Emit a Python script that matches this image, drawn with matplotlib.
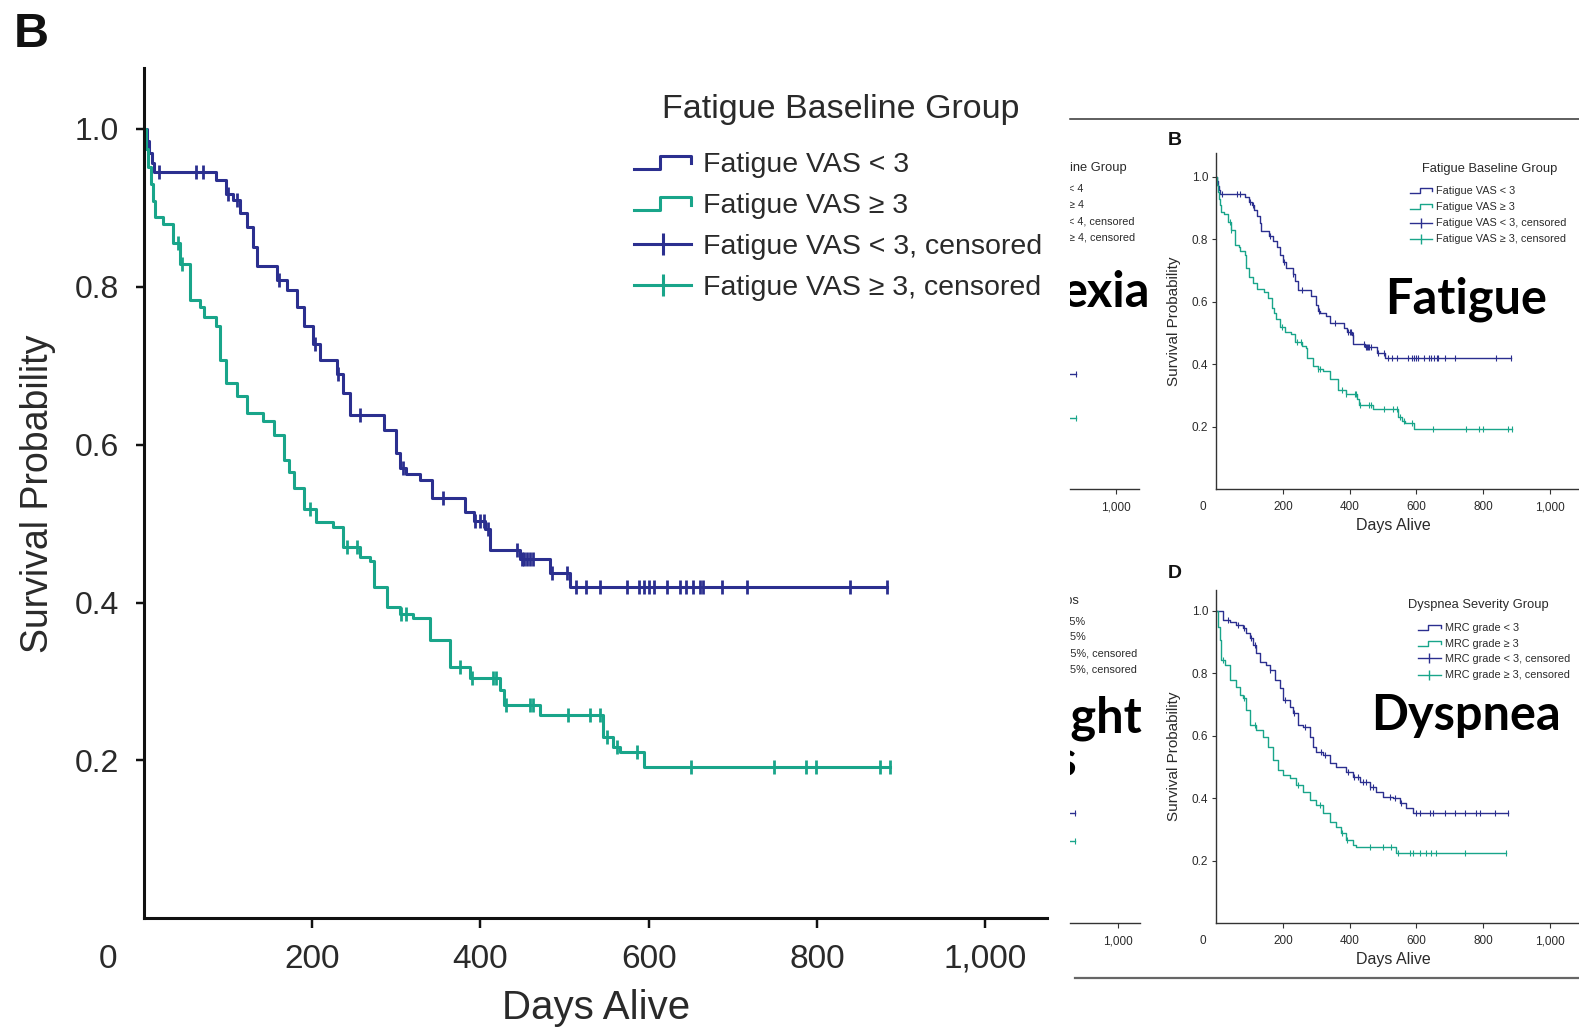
import numpy as np
import matplotlib
matplotlib.use("Agg")
import matplotlib.pyplot as plt
from matplotlib.lines import Line2D

plt.rcParams['font.family'] = ['Liberation Sans', 'DejaVu Sans']

W, H = 1568, 1026          # pixel grid of the reference used for placement
blue = '#2b2f8f'
green = '#19a58a'
ink = '#2a2a2a'

# ---- Fatigue (panel B): step times (days) and survival after each step
fat_lo_t = [0, 3, 6, 9, 12, 86, 98, 106, 114, 122, 130, 134, 158, 170, 182, 190, 201, 209,
            229, 237, 245, 285, 300, 304, 312, 328, 342, 382, 392, 406, 411, 447, 483, 507]
fat_lo_s = [1.0, 0.985, 0.97, 0.957, 0.946, 0.935, 0.918, 0.910, 0.893, 0.876, 0.851, 0.826,
            0.809, 0.796, 0.775, 0.750, 0.728, 0.707, 0.690, 0.665, 0.637, 0.618, 0.589, 0.570,
            0.563, 0.555, 0.533, 0.515, 0.503, 0.493, 0.466, 0.455, 0.437, 0.420]
fat_lo_cens = [18, 62, 70, 100, 110, 160, 203, 231, 257, 308, 356, 394, 400, 404, 409, 443, 449,
               452, 455, 459, 463, 485, 503, 514, 526, 542, 574, 588, 594, 600, 606, 622, 637,
               645, 653, 661, 665, 687, 717, 839, 883]

fat_hi_t = [0, 2, 5, 8, 11, 13, 23, 35, 43, 55, 67, 71, 86, 90, 98, 110, 122, 142, 154, 166,
            172, 178, 190, 205, 225, 237, 257, 269, 273, 289, 304, 320, 340, 364, 388, 423,
            428, 471, 546, 558, 566, 594]
fat_hi_s = [1.0, 0.975, 0.952, 0.930, 0.909, 0.888, 0.880, 0.855, 0.829, 0.783, 0.775, 0.762,
            0.750, 0.707, 0.678, 0.661, 0.640, 0.630, 0.612, 0.580, 0.565, 0.545, 0.519, 0.502,
            0.496, 0.470, 0.458, 0.452, 0.420, 0.394, 0.386, 0.380, 0.352, 0.318, 0.304, 0.289,
            0.270, 0.257, 0.230, 0.217, 0.211, 0.192]
fat_hi_cens = [40, 45, 197, 241, 253, 306, 312, 376, 390, 415, 419, 431, 459, 463, 504, 530,
               542, 550, 562, 586, 650, 749, 787, 799, 875, 887]

# ---- Dyspnea (panel D)
dys_lo_t = [0, 20, 40, 60, 80, 90, 100, 110, 120, 130, 150, 160, 175, 190, 200, 220, 230, 245,
            260, 280, 290, 300, 320, 340, 360, 390, 410, 430, 460, 480, 500, 530, 550, 570, 590]
dys_lo_s = [1.0, 0.970, 0.965, 0.954, 0.943, 0.927, 0.911, 0.890, 0.863, 0.837, 0.826, 0.810,
            0.778, 0.752, 0.714, 0.693, 0.672, 0.634, 0.629, 0.597, 0.565, 0.549, 0.538, 0.512,
            0.501, 0.485, 0.469, 0.453, 0.437, 0.421, 0.405, 0.400, 0.384, 0.368, 0.352]
dys_lo_cens = [35, 65, 82, 105, 115, 162, 205, 232, 265, 315, 325, 395, 412, 425, 440, 450, 462,
               470, 520, 535, 555, 600, 610, 640, 650, 685, 715, 745, 780, 790, 835, 875]

dys_hi_t = [0, 5, 10, 15, 25, 40, 60, 70, 80, 90, 100, 120, 140, 155, 170, 185, 200, 220, 240,
            260, 280, 300, 320, 340, 360, 375, 390, 410, 420, 540]
dys_hi_s = [1.0, 0.949, 0.906, 0.842, 0.826, 0.778, 0.757, 0.730, 0.720, 0.682, 0.634, 0.618,
            0.597, 0.565, 0.522, 0.490, 0.474, 0.464, 0.442, 0.421, 0.394, 0.378, 0.352, 0.325,
            0.309, 0.288, 0.266, 0.250, 0.245, 0.224]
dys_hi_cens = [20, 82, 115, 245, 310, 377, 392, 460, 500, 525, 545, 580, 590, 610, 630, 645,
               660, 745, 870]

# ---- cropped neighbour panels (only the tails are visible)
ano_lo_s, ano_hi_s, ano_cens = [0.370], [0.229], [882]
wt_lo_s, wt_hi_s, wt_cens = [0.354], [0.264], [873]

xticks = [200, 400, 600, 800, 1000]
xticklabels = ['200', '400', '600', '800', '1,000']
yticks = [0.2, 0.4, 0.6, 0.8, 1.0]

fat_title = 'Fatigue Baseline Group'
fat_labels = ['Fatigue VAS < 3', 'Fatigue VAS \u2265 3',
              'Fatigue VAS < 3, censored', 'Fatigue VAS \u2265 3, censored']
dys_title = 'Dyspnea Severity Group'
dys_labels = ['MRC grade < 3', 'MRC grade \u2265 3',
              'MRC grade < 3, censored', 'MRC grade \u2265 3, censored']


def fx(px):
    return px / W


def fy(py):
    return 1 - py / H


def box(l, t, r, b):
    return [fx(l), fy(b), fx(r) - fx(l), fy(t) - fy(b)]


def surv_at(times, surv, t):
    i = np.searchsorted(times, t, side='right') - 1
    return np.asarray(surv)[i]


def km(ax, times, surv, cens, color, lw, ms, mew):
    t = np.append(times, cens[-1])
    s = np.append(surv, surv[-1])
    ax.step(t, s, where='post', color=color, lw=lw)
    ax.plot(cens, surv_at(times, surv, cens), ls='none', marker='|', color=color,
            ms=ms, mew=mew, clip_on=False)


def legend_block(fig, title, labels, tx, ty, x0, x1, xt, rows, fs, tfs, lw, sh, ms, dy):
    fig.text(fx(tx), fy(ty), title, ha='center', va='center', fontsize=tfs, color=ink)
    for k, (lab, c, y) in enumerate(zip(labels, [blue, green, blue, green], rows)):
        if k < 2:
            xm = x0 + 0.45 * (x1 - x0)
            xs = [x0, xm, xm, x1, x1]
            ys = [y + sh / 2, y + sh / 2, y - sh / 2, y - sh / 2, y + 0.1 * sh]
            fig.add_artist(Line2D([fx(v) for v in xs], [fy(v) for v in ys], color=c, lw=lw,
                                  transform=fig.transFigure))
        else:
            fig.add_artist(Line2D([fx(x0), fx(x1)], [fy(y), fy(y)], color=c, lw=lw,
                                  transform=fig.transFigure))
            fig.add_artist(Line2D([fx((x0 + x1) / 2)], [fy(y)], marker='|', ms=ms, mew=lw,
                                  color=c, transform=fig.transFigure))
        fig.text(fx(xt), fy(y + dy), lab, ha='left', va='center', fontsize=fs, color=ink)


def style(ax, ymax, xlim, fs, lw, tlen, ypad, xpad, color):
    for s in ['top', 'right']:
        ax.spines[s].set_visible(False)
    for s in ['left', 'bottom']:
        ax.spines[s].set_linewidth(lw)
        ax.spines[s].set_color(color)
    ax.set_xticks(xticks)
    ax.set_xticklabels(xticklabels, fontsize=fs, color=ink)
    ax.set_yticks(yticks)
    ax.set_yticklabels(['%.1f' % v for v in yticks], fontsize=fs, color=ink)
    ax.tick_params(axis='y', direction='out', length=tlen, width=lw * 0.8, pad=ypad, colors=color)
    ax.tick_params(axis='x', direction='out', length=tlen * 1.2, width=lw * 0.8, pad=xpad,
                   colors=color)
    for lab in ax.get_xticklabels() + ax.get_yticklabels():
        lab.set_color(ink)
    # limits last: set_xticks would otherwise widen them
    ax.set_xlim(*xlim)
    ax.set_ylim(0, ymax)


fig = plt.figure(figsize=(15.79, 10.33), dpi=100)

# ---------------- main enlarged panel ----------------
ax = fig.add_axes(box(143, 68, 1040, 912))
style(ax, 1.0766, (0, 1074), 23, 2.2, 6, 12, 11, '#111111')
for lab in ax.get_xticklabels():
    lab.set_fontsize(24)
km(ax, fat_lo_t, fat_lo_s, fat_lo_cens, blue, 2.2, 10, 2.0)
km(ax, fat_hi_t, fat_hi_s, fat_hi_cens, green, 2.2, 10, 2.0)
ax.text(-43, -0.048, '0', ha='center', va='center', fontsize=24, color=ink,
        transform=ax.get_xaxis_transform())
ax.set_ylabel('Survival Probability', fontsize=27, color=ink)
ax.yaxis.set_label_coords(-0.097, 0.5)
ax.set_xlabel('Days Alive', fontsize=29, color=ink)
ax.xaxis.set_label_coords(0.5, -0.083)
fig.text(fx(14), fy(47), 'B', fontsize=35, fontweight='bold', color='#111111')
legend_block(fig, fat_title, fat_labels, 835, 109, 630, 686, 698, [161, 202, 242, 283],
             20.5, 24.5, 2.2, 13, 16, 3)

# ---------------- small panels on the right ----------------
small = [(box(1208, 152, 1568, 486), 1.076, fat_lo_t, fat_lo_s, fat_lo_cens,
          fat_hi_t, fat_hi_s, fat_hi_cens, 'B', 144),
         (box(1208, 586, 1568, 917), 1.066, dys_lo_t, dys_lo_s, dys_lo_cens,
          dys_hi_t, dys_hi_s, dys_hi_cens, 'D', 574)]
for rect, ymax, lt, ls_, lc, ht, hs, hc, letter, ly in small:
    sa = fig.add_axes(rect)
    style(sa, ymax, (0, 1088), 8.5, 1.0, 3, 3, 5, '#333333')
    km(sa, lt, ls_, lc, blue, 1.0, 5, 0.8)
    km(sa, ht, hs, hc, green, 1.0, 5, 0.8)
    sa.text(-40, -0.052, '0', ha='center', va='center', fontsize=8.5, color=ink,
            transform=sa.get_xaxis_transform())
    sa.set_ylabel('Survival Probability', fontsize=11, color=ink)
    sa.yaxis.set_label_coords(-0.097, 0.5)
    sa.set_xlabel('Days Alive', fontsize=11.5, color=ink)
    sa.xaxis.set_label_coords(0.489, -0.085)
    fig.text(fx(1160), fy(ly), letter, fontsize=14, fontweight='bold', color='#111111')

legend_block(fig, fat_title, fat_labels, 1479, 168, 1400, 1422, 1426, [189, 205, 221, 237],
             7.8, 9.3, 1.0, 5, 7, 0.5)
legend_block(fig, dys_title, dys_labels, 1468, 601, 1408, 1431, 1435, [623, 639, 654, 670],
             7.8, 9.3, 1.0, 5, 7, 0.5)

# ---------------- cropped slivers of panels A and C ----------------
for rect, ymax, xl, lo, hi, cens in [(box(1063, 152, 1131, 486), 1.076, (864, 1069.5),
                                      ano_lo_s, ano_hi_s, ano_cens),
                                     (box(1063, 586, 1132, 917), 1.066, (858, 1066.5),
                                      wt_lo_s, wt_hi_s, wt_cens)]:
    sl = fig.add_axes(rect)
    style(sl, ymax, xl, 8.5, 1.0, 3, 3, 5, '#333333')
    sl.spines['left'].set_visible(False)
    sl.set_yticks([])
    km(sl, [800], lo, cens, blue, 1.0, 5, 0.8)
    km(sl, [800], hi, cens, green, 1.0, 5, 0.8)
    sl.set_xlim(*xl)

# text layer clipped at the crop edge of the neighbouring figure:
# only the right-hand ends of these strings are visible in the crop
clip = fig.add_axes([fx(1063), 0, 1 - fx(1063), 1])
clip.axis('off')
tf = fig.transFigure
small_txt = [('eline Group', 1119, 167, 9.3),
             ('< 4', 1076, 188, 7.8), ('\u2265 4', 1076, 204, 7.8),
             ('< 4, censored', 1127, 220, 7.8), ('\u2265 4, censored', 1127, 236, 7.8),
             ('ups', 1071, 597, 9.3),
             ('< 5%', 1078, 618, 7.8), ('\u2265 5%', 1078, 633, 7.8),
             ('< 5%, censored', 1129, 649, 7.8), ('\u2265 5%, censored', 1129, 665, 7.8)]
for s, x, y, f in small_txt:
    clip.text(fx(x), fy(y), s, ha='right', va='center', fontsize=f, color=ink,
              transform=tf, clip_on=True)

big = dict(family=['Lato', 'DejaVu Sans'], fontweight='bold', fontsize=35, color='black',
           transform=tf, clip_on=True)
clip.text(fx(1456), fy(311), 'Fatigue', ha='center', va='baseline', **big)
clip.text(fx(1456), fy(725), 'Dyspnea', ha='center', va='baseline', **big)
clip.text(fx(1142), fy(305), 'exia', ha='right', va='baseline', **big)
clip.text(fx(1134), fy(771), 'Weight\nLoss', ha='right', va='baseline', ma='left',
          linespacing=0.95, **big)

# frame lines of the neighbouring figure
fig.add_artist(Line2D([fx(1063), 1], [fy(118.5), fy(118.5)], color='#333333', lw=1.1,
                      transform=tf))
fig.add_artist(Line2D([fx(1068), 1], [fy(971), fy(971)], color='#666666', lw=1.6,
                      transform=tf))

fig.savefig('out.png', dpi=100, facecolor='white')
